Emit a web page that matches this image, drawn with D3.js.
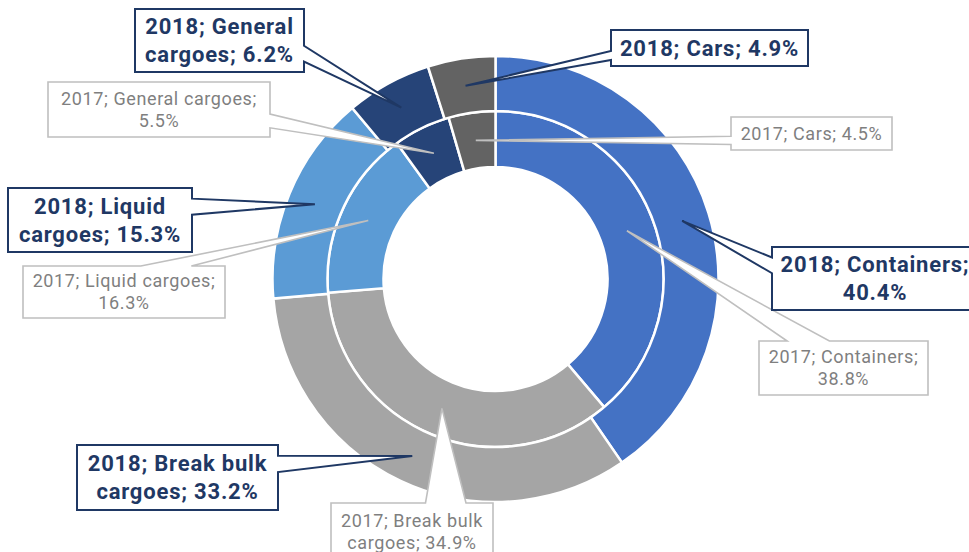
<!DOCTYPE html>
<html>
<head>
<meta charset="utf-8">
<title>Cargo structure 2017 / 2018</title>
<script src="https://d3js.org/d3.v7.min.js"></script>
<style>
    body { margin: 0; background: #fff; }
    svg { display: block; }
    .lbl18 { font-family: Roboto, sans-serif; font-size: 22px; font-weight: 700; fill: #1f3864; letter-spacing: 0.8px; }
    .lbl17 { font-family: Roboto, sans-serif; font-size: 18px; font-weight: 400; fill: #7f7f7f; letter-spacing: 0.6px; }
</style>
</head>
<body>
<div id="chart"></div>
<script>
// data
let categories = ["Containers", "Break bulk cargoes", "Liquid cargoes", "General cargoes", "Cars"];
let values2018 = [40.4, 33.2, 15.3, 6.2, 4.9];
let values2017 = [38.8, 34.9, 16.3, 5.5, 4.5];
let colors = ["#4472c4", "#a5a5a5", "#5b9bd5", "#264478", "#636363"];

// label boxes (callout positions) and how many words go on the first line
let boxes2018 = [
    {x: 772, y: 247, w: 206, h: 63, split: 2},
    {x: 77,  y: 445, w: 201, h: 65, split: 3},
    {x: 8,   y: 188, w: 184, h: 64, split: 2},
    {x: 135, y: 9,   w: 169, h: 63, split: 2},
    {x: 611, y: 30,  w: 197, h: 36, split: 0}
];
let boxes2017 = [
    {x: 759, y: 341, w: 169, h: 54, split: 2},
    {x: 331, y: 503, w: 162, h: 58, split: 3},
    {x: 23,  y: 266, w: 202, h: 52, split: 3},
    {x: 48,  y: 82,  w: 222, h: 55, split: 3},
    {x: 731, y: 117, w: 161, h: 33, split: 0}
];

let width = 969, height = 552;
let cx = 495.5, cy = 279;
let rHole = 112, rMid = 168, rOuter = 223;

let svg = d3.select("#chart").append("svg")
    .attr("width", width).attr("height", height);

let pie = d3.pie().sort(null).value(d => d);

let arcInner = d3.arc().innerRadius(rHole).outerRadius(rMid);
let arcOuter = d3.arc().innerRadius(rMid).outerRadius(rOuter);

let g = svg.append("g").attr("transform", "translate(" + cx + "," + cy + ")");

let arcs2017 = pie(values2017);
let arcs2018 = pie(values2018);

g.selectAll("path.inner").data(arcs2017).join("path")
    .attr("class", "inner")
    .attr("d", arcInner)
    .attr("fill", (d, i) => colors[i])
    .attr("stroke", "#fff").attr("stroke-width", 2.5);

g.selectAll("path.outer").data(arcs2018).join("path")
    .attr("class", "outer")
    .attr("d", arcOuter)
    .attr("fill", (d, i) => colors[i])
    .attr("stroke", "#fff").attr("stroke-width", 2.5);

// callout shape: rectangle with a wedge pointing at (tx,ty)
function calloutPath(b, tx, ty) {
    let x0 = b.x, y0 = b.y, x1 = b.x + b.w, y1 = b.y + b.h;
    let mx = b.x + b.w / 2, my = b.y + b.h / 2;
    let dx = tx - mx, dy = ty - my;
    let pts;
    if (Math.abs(dx) / b.w > Math.abs(dy) / b.h) {
        // wedge on left or right side
        let fa = dy < 0 ? 2 / 12 : 7 / 12, fb = dy < 0 ? 5 / 12 : 10 / 12;
        let ya = y0 + b.h * fa, yb = y0 + b.h * fb;
        if (dx > 0) {
            pts = [[x0, y0], [x1, y0], [x1, ya], [tx, ty], [x1, yb], [x1, y1], [x0, y1]];
        } else {
            pts = [[x0, y0], [x1, y0], [x1, y1], [x0, y1], [x0, yb], [tx, ty], [x0, ya]];
        }
    } else {
        let fa = dx < 0 ? 2 / 12 : 7 / 12, fb = dx < 0 ? 5 / 12 : 10 / 12;
        let xa = x0 + b.w * fa, xb = x0 + b.w * fb;
        if (dy < 0) {
            pts = [[x0, y0], [xa, y0], [tx, ty], [xb, y0], [x1, y0], [x1, y1], [x0, y1]];
        } else {
            pts = [[x0, y0], [x1, y0], [x1, y1], [xb, y1], [tx, ty], [xa, y1], [x0, y1]];
        }
    }
    return "M" + pts.map(p => p[0] + "," + p[1]).join("L") + "Z";
}

function drawLabels(year, arcs, values, boxes, arcGen, cls, stroke, strokeW, lh) {
    arcs.forEach((a, i) => {
        let b = boxes[i];
        let c = arcGen.centroid(a);
        let tx = cx + c[0], ty = cy + c[1];
        let words = (year + "; " + categories[i] + "; " + values[i].toFixed(1) + "%").split(" ");
        let lines = b.split > 0 && b.split < words.length
            ? [words.slice(0, b.split).join(" "), words.slice(b.split).join(" ")]
            : [words.join(" ")];

        let lg = svg.append("g");
        lg.append("path")
            .attr("d", calloutPath(b, tx, ty))
            .attr("fill", "#fff")
            .attr("stroke", stroke).attr("stroke-width", strokeW)
            .attr("stroke-linejoin", "miter");

        let midY = b.y + b.h / 2;
        lg.selectAll("text").data(lines).join("text")
            .attr("class", cls)
            .attr("x", b.x + b.w / 2)
            .attr("y", (d, k) => midY + (k - (lines.length - 1) / 2) * lh)
            .attr("dy", "0.35em")
            .attr("text-anchor", "middle")
            .text(d => d);
    });
}

drawLabels(2017, arcs2017, values2017, boxes2017, arcInner, "lbl17", "#bfbfbf", 1.6, 22);
drawLabels(2018, arcs2018, values2018, boxes2018, arcOuter, "lbl18", "#1f3864", 2, 28);
</script>
</body>
</html>
